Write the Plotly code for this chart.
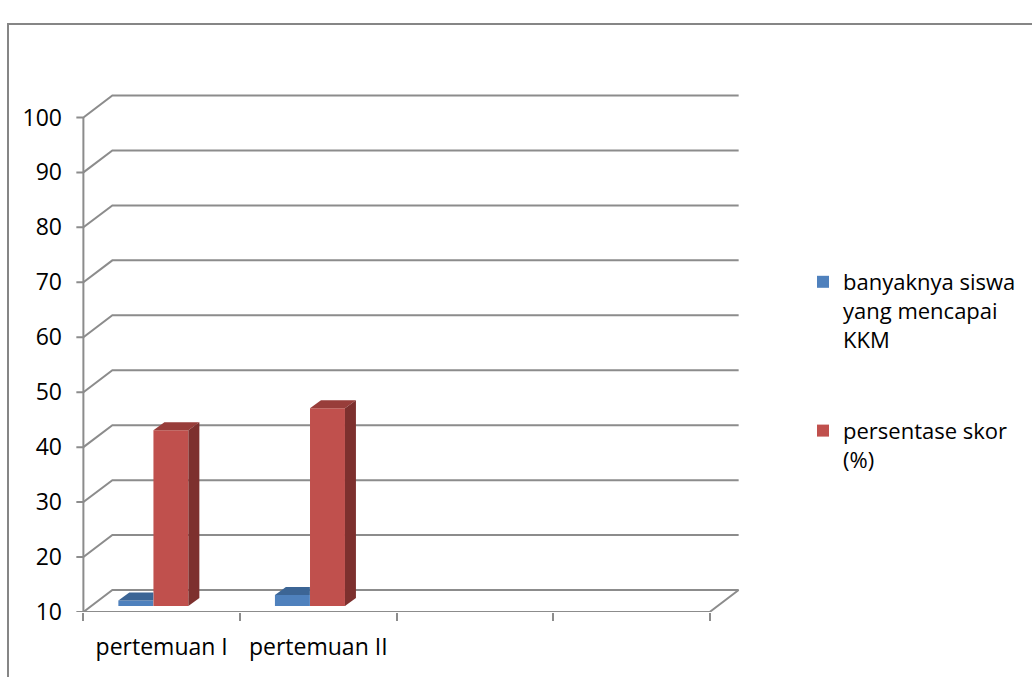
import plotly.graph_objects as go

# ---- data -------------------------------------------------------------
categories = ["pertemuan I", "pertemuan II", "", ""]
series_names = ["banyaknya siswa<br>yang mencapai<br>KKM", "persentase skor<br>(%)"]
siswa_kkm = [11, 12]
persentase = [42, 46]
y_ticks = [10, 20, 30, 40, 50, 60, 70, 80, 90, 100]

# ---- styling ----------------------------------------------------------
FONT = "Open Sans"
GRID = "#8c8c8c"
BLUE_FRONT, BLUE_TOP = "#4f81bd", "#3c6595"
RED_FRONT, RED_TOP, RED_SIDE = "#c0504d", "#983d3a", "#7d302e"

W, H = 1032, 677
ML, MR, MT, MB = 74, 291, 90, 65
X_RANGE = [-0.06, 4.2]
Y_RANGE = [10, 105]

# oblique projection of the depth axis (in data units)
DX, DY = 0.185, 4.0          # full floor depth
LIFT_Y = 1.09                 # front plane of the bars
BDX, BDY = 0.07, 1.45         # thickness of a bar
BAR_W = 0.2233
OFF_BLUE, OFF_RED = 0.335, 0.559
TICK_X = 0.045

n_cat = len(categories)
pw = W - ML - MR
ph = H - MT - MB


def px_to_paper(px, py):
    return (px - ML) / pw, (H - MB - py) / ph


fig = go.Figure()

# front faces of the columns
base = Y_RANGE[0] + LIFT_Y
for name, vals, off, col in [
    (series_names[0], siswa_kkm, OFF_BLUE, BLUE_FRONT),
    (series_names[1], persentase, OFF_RED, RED_FRONT),
]:
    fig.add_trace(go.Bar(
        x=[i + off for i in range(len(vals))],
        y=[v - Y_RANGE[0] for v in vals],
        base=[base] * len(vals),
        width=BAR_W,
        marker=dict(color=col, line=dict(width=0)),
        name=name,
        legendgroup=name,
        hoverinfo="skip",
    ))

# top faces of the blue columns (right part hidden behind the red column)
for i, v in enumerate(siswa_kkm):
    x0 = i + OFF_BLUE - BAR_W / 2
    x1 = x0 + BAR_W
    t = v + LIFT_Y
    fig.add_trace(go.Scatter(
        x=[x0, x1, x1, x0 + BDX, x0], y=[t, t, t + BDY, t + BDY, t],
        fill="toself", fillcolor=BLUE_TOP, mode="lines",
        line=dict(width=0, color=BLUE_TOP), showlegend=False, hoverinfo="skip",
    ))

# top and side faces of the red columns
for i, v in enumerate(persentase):
    x0 = i + OFF_RED - BAR_W / 2
    x1 = x0 + BAR_W
    t = v + LIFT_Y
    fig.add_trace(go.Scatter(
        x=[x0, x1, x1 + BDX, x0 + BDX, x0], y=[t, t, t + BDY, t + BDY, t],
        fill="toself", fillcolor=RED_TOP, mode="lines",
        line=dict(width=0, color=RED_TOP), showlegend=False, hoverinfo="skip",
    ))
    fig.add_trace(go.Scatter(
        x=[x1, x1, x1 + BDX, x1 + BDX, x1], y=[base, t, t + BDY, base + BDY, base],
        fill="toself", fillcolor=RED_SIDE, mode="lines",
        line=dict(width=0, color=RED_SIDE), showlegend=False, hoverinfo="skip",
    ))

# walls: gridlines bent onto the back wall, vertical axis, floor edge
shapes = []
for v in y_ticks:
    shapes.append(dict(
        type="path", xref="x", yref="y", layer="below",
        path=f"M {-TICK_X},{v} L 0,{v} L {DX},{v + DY} L {n_cat + DX},{v + DY}",
        line=dict(color=GRID, width=2),
    ))
shapes.append(dict(
    type="path", xref="x", yref="y", layer="below",
    path=f"M 0,{y_ticks[0]} L 0,{y_ticks[-1]}",
    line=dict(color=GRID, width=2),
))
shapes.append(dict(
    type="path", xref="x", yref="y", layer="below",
    path=f"M 0,{y_ticks[0]} L {n_cat},{y_ticks[0]} L {n_cat + DX},{y_ticks[0] + DY}",
    line=dict(color=GRID, width=2),
))

# outer chart-area frame
bx0, by0 = px_to_paper(8, 24)
bx1, by1 = px_to_paper(W + 20, H + 20)
shapes.append(dict(
    type="rect", xref="paper", yref="paper", layer="below",
    x0=bx0, y0=by1, x1=bx1, y1=by0,
    line=dict(color="#868686", width=2), fillcolor="rgba(0,0,0,0)",
))

lx, ly = px_to_paper(803, 261)

fig.update_layout(
    width=W, height=H,
    margin=dict(l=ML, r=MR, t=MT, b=MB, autoexpand=False),
    paper_bgcolor="white", plot_bgcolor="white",
    barmode="overlay",
    shapes=shapes,
    font=dict(family=FONT, size=23, color="#000000"),
    showlegend=True,
    legend=dict(
        x=lx, y=ly, xanchor="left", yanchor="top",
        traceorder="grouped", tracegroupgap=60, valign="top",
        font=dict(family=FONT, size=22, color="#000000"),
        bgcolor="rgba(0,0,0,0)",
    ),
    xaxis=dict(
        range=X_RANGE, showgrid=False, zeroline=False, showline=False,
        automargin=False,
        tickmode="array",
        tickvals=[i + 0.5 for i in range(n_cat)],
        ticktext=categories,
        ticks="", ticklabelstandoff=19,
        minor=dict(
            tickmode="array", tickvals=list(range(n_cat + 1)),
            ticks="outside", ticklen=8, tickwidth=2, tickcolor=GRID, showgrid=False,
        ),
        fixedrange=True,
    ),
    yaxis=dict(
        range=Y_RANGE, showgrid=False, zeroline=False, showline=False,
        automargin=False,
        tickmode="array", tickvals=y_ticks, ticks="",
        ticklabelstandoff=11,
        fixedrange=True,
    ),
)

fig.write_html("out.html")
